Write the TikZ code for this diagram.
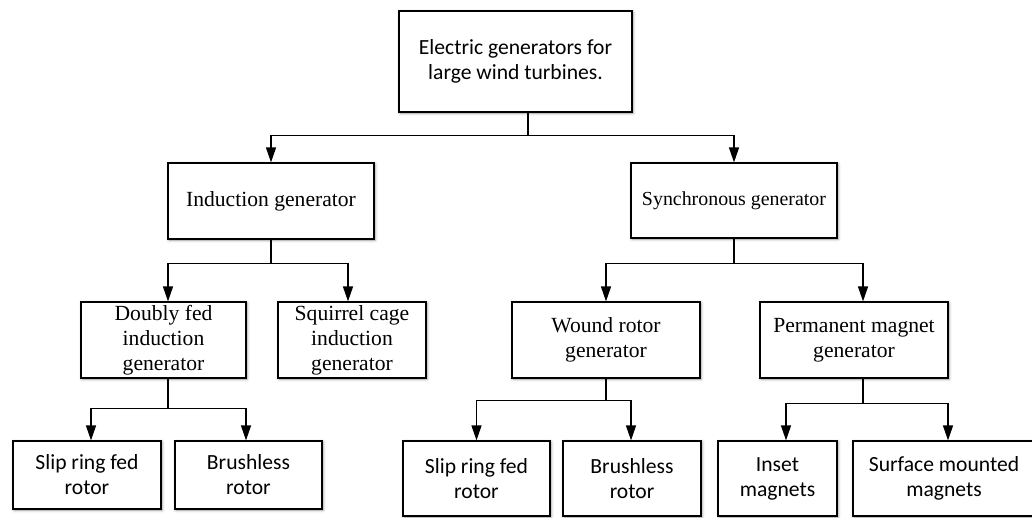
\documentclass[tikz,border=0pt]{standalone}
\usepackage{fontspec}
\setmainfont{Liberation Serif}
\newfontfamily\calibri{Carlito}
\usetikzlibrary{arrows.meta,shadows.blur}
\tikzset{
 gbox/.style={draw, line width=1.2pt, fill=white, inner sep=0pt, align=center,
   blur shadow={shadow xshift=1pt,shadow yshift=-1pt,shadow blur radius=3pt,shadow opacity=40}},
 serifbox/.style={gbox, font=\fontsize{21.6}{25}\selectfont},
 sansbox/.style={gbox, font=\calibri\fontsize{21.6}{25}\selectfont},
 link/.style={line width=1.2pt},
 arr/.style={line width=1.2pt, -{Triangle[length=15pt,width=10pt]}},
}
\begin{document}
\begin{tikzpicture}[x=1pt,y=-1pt]
\useasboundingbox (0,0) rectangle (1032,517);
% nodes
\node[sansbox, minimum width=233pt, minimum height=101pt] (root) at (515.5,61.5) {Electric generators for\\large wind turbines.};
\node[serifbox, minimum width=206pt, minimum height=76pt] (ind) at (271,201) {Induction generator};
\node[serifbox, font=\fontsize{19.9}{25}\selectfont, minimum width=206pt, minimum height=75pt] (syn) at (734,200.5) {Synchronous generator};
\node[serifbox, minimum width=165pt, minimum height=76pt] (dfig) at (163.5,340) {Doubly fed\\induction\\generator};
\node[serifbox, minimum width=148pt, minimum height=76pt] (scig) at (352,340) {Squirrel cage\\induction\\generator};
\node[serifbox, minimum width=188pt, minimum height=76pt] (wound) at (606,340) {Wound rotor\\generator};
\node[serifbox, minimum width=188pt, minimum height=76pt] (perm) at (854,340) {Permanent magnet\\generator};
\node[sansbox, minimum width=148pt, minimum height=68pt] (slipL) at (87,475) {Slip ring fed\\rotor};
\node[sansbox, minimum width=147pt, minimum height=68pt] (brushL) at (248.5,475) {Brushless\\rotor};
\node[sansbox, minimum width=147pt, minimum height=75pt] (slipR) at (476.5,478.5) {Slip ring fed\\rotor};
\node[sansbox, minimum width=138pt, minimum height=75pt] (brushR) at (632,478.5) {Brushless\\rotor};
\node[sansbox, minimum width=119pt, minimum height=75pt] (inset) at (777.5,478.5) {Inset\\magnets};
\node[sansbox, minimum width=182pt, minimum height=75pt] (surf) at (944,478.5) {Surface mounted\\magnets};
% connectors
\draw[link] ([xshift=12.5pt]root.south) -- ++(0,23) coordinate (j0);
\draw[arr] (j0) -| (ind.north);
\draw[arr] (j0) -| (syn.north);
\draw[link] (ind.south) -- ++(0,24) coordinate (j1);
\draw[arr] (j1) -| ([xshift=4.5pt]dfig.north);
\draw[arr] (j1) -| ([xshift=-4pt]scig.north);
\draw[link] ([xshift=4.5pt]dfig.south) -- ++(0,30) coordinate (j2);
\draw[arr] (j2) -| ([xshift=4pt]slipL.north);
\draw[arr] (j2) -| ([xshift=-2.5pt]brushL.north);
\draw[link] (syn.south) -- ++(0,25) coordinate (j3);
\draw[arr] (j3) -| (wound.north);
\draw[arr] (j3) -| ([xshift=9pt]perm.north);
\draw[link] (wound.south) -- ++(0,22) coordinate (j4);
\draw[arr] (j4) -| (slipR.north);
\draw[arr] (j4) -| ([xshift=-1pt]brushR.north);
\draw[link] ([xshift=9pt]perm.south) -- ++(0,25) coordinate (j5);
\draw[arr] (j5) -| ([xshift=8.5pt]inset.north);
\draw[arr] (j5) -| ([xshift=4pt]surf.north);
\end{tikzpicture}
\end{document}
